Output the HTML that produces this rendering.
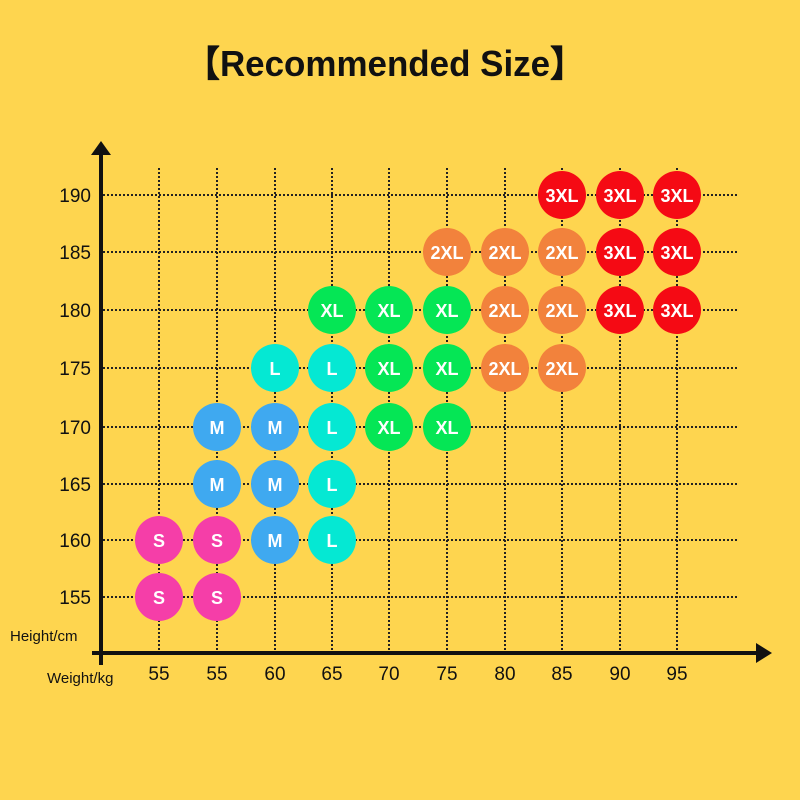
<!DOCTYPE html>
<html><head><meta charset="utf-8"><style>
body{margin:0;background:#fed54f}
svg{display:block}
text{font-family:"Comic Sans MS","Liberation Sans",sans-serif}
</style></head><body>
<svg width="800" height="800" viewBox="0 0 800 800" xmlns="http://www.w3.org/2000/svg">
<rect width="800" height="800" fill="#fed54f"/>
<text x="385" y="76" font-size="36" font-weight="bold" text-anchor="middle" fill="#111" textLength="400" lengthAdjust="spacingAndGlyphs">【Recommended Size】</text>
<g stroke="#222" stroke-width="2" stroke-dasharray="2,2">
<line x1="159" y1="168" x2="159" y2="653"/><line x1="217" y1="168" x2="217" y2="653"/>
<line x1="275" y1="168" x2="275" y2="653"/><line x1="332" y1="168" x2="332" y2="653"/>
<line x1="389" y1="168" x2="389" y2="653"/><line x1="447" y1="168" x2="447" y2="653"/>
<line x1="505" y1="168" x2="505" y2="653"/><line x1="562" y1="168" x2="562" y2="653"/>
<line x1="620" y1="168" x2="620" y2="653"/><line x1="677" y1="168" x2="677" y2="653"/>
<line x1="103" y1="195" x2="737" y2="195"/><line x1="103" y1="252" x2="737" y2="252"/>
<line x1="103" y1="310" x2="737" y2="310"/><line x1="103" y1="368" x2="737" y2="368"/>
<line x1="103" y1="427" x2="737" y2="427"/><line x1="103" y1="484" x2="737" y2="484"/>
<line x1="103" y1="540" x2="737" y2="540"/><line x1="103" y1="597" x2="737" y2="597"/>
</g>
<line x1="101" y1="155" x2="101" y2="665" stroke="#111" stroke-width="4"/>
<polygon points="101,141 91,155 111,155" fill="#111"/>
<line x1="92" y1="653" x2="758" y2="653" stroke="#111" stroke-width="4"/>
<polygon points="772,653 756,643 756,663" fill="#111"/>
<g font-size="19" fill="#111" text-anchor="end">
<text x="91" y="202">190</text><text x="91" y="259">185</text><text x="91" y="317">180</text>
<text x="91" y="375">175</text><text x="91" y="434">170</text><text x="91" y="491">165</text>
<text x="91" y="547">160</text><text x="91" y="604">155</text>
</g>
<text x="10" y="641" font-size="15" fill="#111">Height/cm</text>
<text x="47" y="683" font-size="15" fill="#111">Weight/kg</text>
<g font-size="19" fill="#111" text-anchor="middle">
<text x="159" y="680">55</text><text x="217" y="680">55</text><text x="275" y="680">60</text>
<text x="332" y="680">65</text><text x="389" y="680">70</text><text x="447" y="680">75</text>
<text x="505" y="680">80</text><text x="562" y="680">85</text><text x="620" y="680">90</text>
<text x="677" y="680">95</text>
</g>
<g font-size="18" font-weight="bold" fill="#fff" text-anchor="middle">
<circle cx="562" cy="195" r="24" fill="#f50a14"/><text x="562" y="202">3XL</text>
<circle cx="620" cy="195" r="24" fill="#f50a14"/><text x="620" y="202">3XL</text>
<circle cx="677" cy="195" r="24" fill="#f50a14"/><text x="677" y="202">3XL</text>
<circle cx="447" cy="252" r="24" fill="#f2823c"/><text x="447" y="259">2XL</text>
<circle cx="505" cy="252" r="24" fill="#f2823c"/><text x="505" y="259">2XL</text>
<circle cx="562" cy="252" r="24" fill="#f2823c"/><text x="562" y="259">2XL</text>
<circle cx="620" cy="252" r="24" fill="#f50a14"/><text x="620" y="259">3XL</text>
<circle cx="677" cy="252" r="24" fill="#f50a14"/><text x="677" y="259">3XL</text>
<circle cx="332" cy="310" r="24" fill="#05e655"/><text x="332" y="317">XL</text>
<circle cx="389" cy="310" r="24" fill="#05e655"/><text x="389" y="317">XL</text>
<circle cx="447" cy="310" r="24" fill="#05e655"/><text x="447" y="317">XL</text>
<circle cx="505" cy="310" r="24" fill="#f2823c"/><text x="505" y="317">2XL</text>
<circle cx="562" cy="310" r="24" fill="#f2823c"/><text x="562" y="317">2XL</text>
<circle cx="620" cy="310" r="24" fill="#f50a14"/><text x="620" y="317">3XL</text>
<circle cx="677" cy="310" r="24" fill="#f50a14"/><text x="677" y="317">3XL</text>
<circle cx="275" cy="368" r="24" fill="#05e8d3"/><text x="275" y="375">L</text>
<circle cx="332" cy="368" r="24" fill="#05e8d3"/><text x="332" y="375">L</text>
<circle cx="389" cy="368" r="24" fill="#05e655"/><text x="389" y="375">XL</text>
<circle cx="447" cy="368" r="24" fill="#05e655"/><text x="447" y="375">XL</text>
<circle cx="505" cy="368" r="24" fill="#f2823c"/><text x="505" y="375">2XL</text>
<circle cx="562" cy="368" r="24" fill="#f2823c"/><text x="562" y="375">2XL</text>
<circle cx="217" cy="427" r="24" fill="#3fa9f0"/><text x="217" y="434">M</text>
<circle cx="275" cy="427" r="24" fill="#3fa9f0"/><text x="275" y="434">M</text>
<circle cx="332" cy="427" r="24" fill="#05e8d3"/><text x="332" y="434">L</text>
<circle cx="389" cy="427" r="24" fill="#05e655"/><text x="389" y="434">XL</text>
<circle cx="447" cy="427" r="24" fill="#05e655"/><text x="447" y="434">XL</text>
<circle cx="217" cy="484" r="24" fill="#3fa9f0"/><text x="217" y="491">M</text>
<circle cx="275" cy="484" r="24" fill="#3fa9f0"/><text x="275" y="491">M</text>
<circle cx="332" cy="484" r="24" fill="#05e8d3"/><text x="332" y="491">L</text>
<circle cx="159" cy="540" r="24" fill="#f53ea8"/><text x="159" y="547">S</text>
<circle cx="217" cy="540" r="24" fill="#f53ea8"/><text x="217" y="547">S</text>
<circle cx="275" cy="540" r="24" fill="#3fa9f0"/><text x="275" y="547">M</text>
<circle cx="332" cy="540" r="24" fill="#05e8d3"/><text x="332" y="547">L</text>
<circle cx="159" cy="597" r="24" fill="#f53ea8"/><text x="159" y="604">S</text>
<circle cx="217" cy="597" r="24" fill="#f53ea8"/><text x="217" y="604">S</text>
</g>
</svg>
</body></html>
